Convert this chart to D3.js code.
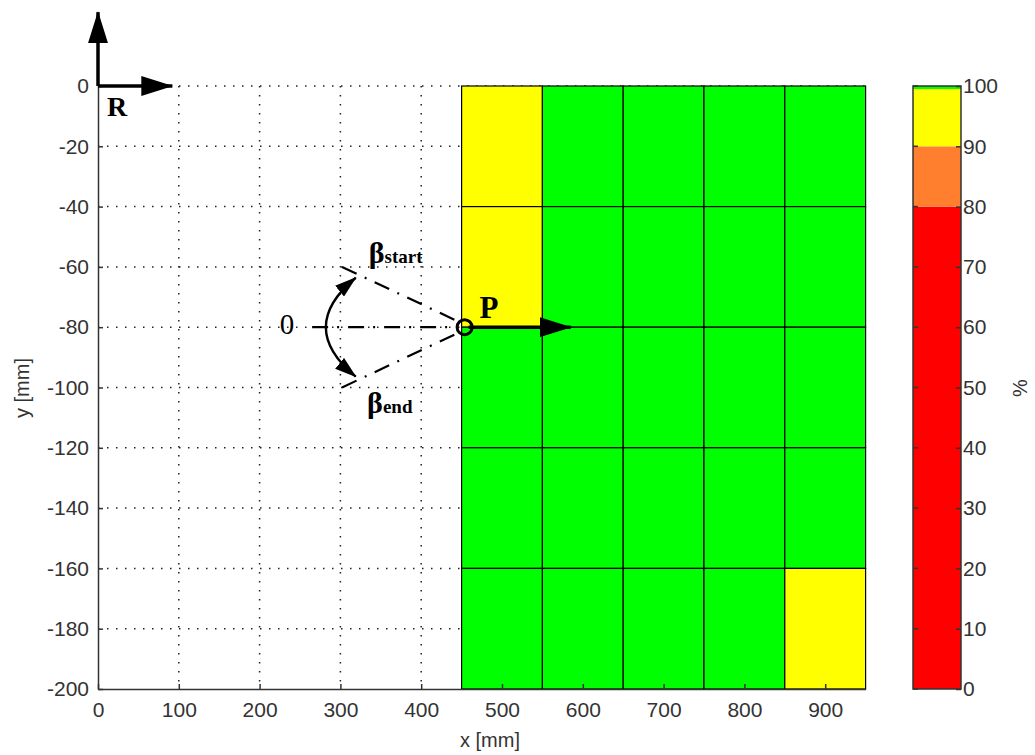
<!DOCTYPE html>
<html>
<head>
<meta charset="utf-8">
<script src="https://cdn.jsdelivr.net/npm/d3@7"></script>
<style>
  body { margin: 0; background: #fff; }
  svg { display: block; }
</style>
</head>
<body>
<svg id="chart" width="1035" height="755"></svg>
<script>
// ---------------- data ----------------
const xTicks = [0, 100, 200, 300, 400, 500, 600, 700, 800, 900];
const yTicks = [0, -20, -40, -60, -80, -100, -120, -140, -160, -180, -200];
const cbTicks = [0, 10, 20, 30, 40, 50, 60, 70, 80, 90, 100];
// cell edges (mm)
const cellXEdges = [450, 550, 650, 750, 850, 950];
const cellYEdges = [0, -40, -80, -120, -160, -200];
// cell values (%), rows top->bottom, columns left->right
const row1 = [95, 100, 100, 100, 100];
const row2 = [95, 100, 100, 100, 100];
const row3 = [100, 100, 100, 100, 100];
const row4 = [100, 100, 100, 100, 100];
const row5 = [100, 100, 100, 100, 95];
const cellValues = [row1, row2, row3, row4, row5];
// colour map bands (%)
const bandLow = [0, 80, 90, 99.5];
const bandHigh = [80, 90, 99.5, 100];
const bandColors = ["#ff0000", "#ff7f2f", "#ffff00", "#00ff00"];

// ---------------- layout ----------------
const svg = d3.select("#chart");
const x = d3.scaleLinear().domain([0, 950]).range([98, 865.6]);
const y = d3.scaleLinear().domain([0, -200]).range([86, 689]);
const cy = d3.scaleLinear().domain([0, 100]).range([689, 86]);
const cbX0 = 913, cbX1 = 961;
const color = d3.scaleThreshold().domain(bandLow.slice(1)).range(bandColors);
const fmt = d => String(d);

const tickFont = "'Liberation Sans', Arial, Helvetica, sans-serif";
const serif = "'Liberation Serif', 'Times New Roman', 'DejaVu Serif', serif";

// markers
const defs = svg.append("defs");
function marker(id, len, wid) {
  defs.append("marker")
    .attr("id", id)
    .attr("markerUnits", "userSpaceOnUse")
    .attr("viewBox", `0 0 ${len} ${wid}`)
    .attr("markerWidth", len).attr("markerHeight", wid)
    .attr("refX", len - 1).attr("refY", wid / 2)
    .attr("orient", "auto-start-reverse")
    .append("path")
    .attr("d", `M0,0 L${len},${wid / 2} L0,${wid} Z`)
    .attr("fill", "#000");
}
marker("bigArrow", 32, 20);
marker("smallArrow", 22, 14);

// ---------------- grid ----------------
const grid = svg.append("g");
grid.selectAll("line.gx").data(xTicks.filter(d => d > 0)).join("line")
  .attr("x1", d => x(d)).attr("x2", d => x(d))
  .attr("y1", y(0)).attr("y2", y(-200))
  .attr("stroke", "#222").attr("stroke-width", 1.5).attr("stroke-dasharray", "1.5,7.5");
grid.selectAll("line.gy").data(yTicks.filter(d => d > -200)).join("line")
  .attr("x1", x(0)).attr("x2", x(950))
  .attr("y1", d => y(d)).attr("y2", d => y(d))
  .attr("stroke", "#222").attr("stroke-width", 1.5).attr("stroke-dasharray", "1.5,7.5");

// ---------------- cells ----------------
const cells = [];
cellValues.forEach((row, r) => row.forEach((v, c) => cells.push({ r, c, v })));
svg.append("g").selectAll("rect").data(cells).join("rect")
  .attr("x", d => x(cellXEdges[d.c]))
  .attr("y", d => y(cellYEdges[d.r]))
  .attr("width", d => x(cellXEdges[d.c + 1]) - x(cellXEdges[d.c]))
  .attr("height", d => y(cellYEdges[d.r + 1]) - y(cellYEdges[d.r]))
  .attr("fill", d => color(d.v))
  .attr("stroke", "#000").attr("stroke-width", 1.2);

// ---------------- axes ----------------
const axL = svg.append("g").attr("transform", `translate(${x(0)},0)`)
  .call(d3.axisLeft(y).tickValues(yTicks).tickFormat(fmt).tickSize(-5).tickSizeOuter(0).tickPadding(9));
const axB = svg.append("g").attr("transform", `translate(0,${y(-200)})`)
  .call(d3.axisBottom(x).tickValues(xTicks).tickFormat(fmt).tickSize(-5).tickSizeOuter(0).tickPadding(13));
[axL, axB].forEach(a => {
  a.selectAll("path.domain").attr("stroke", "#333").attr("stroke-width", 1.5);
  a.selectAll(".tick line").attr("stroke", "#333").attr("stroke-width", 1.5);
  a.selectAll(".tick text").attr("font-family", tickFont).attr("font-size", 21).attr("fill", "#333");
});

svg.append("text").attr("x", 490).attr("y", 747).attr("text-anchor", "middle")
  .attr("font-family", tickFont).attr("font-size", 20).attr("fill", "#333").text("x [mm]");
svg.append("text").attr("transform", "translate(29,388) rotate(-90)").attr("text-anchor", "middle")
  .attr("font-family", tickFont).attr("font-size", 20).attr("fill", "#333").text("y [mm]");

// ---------------- colorbar ----------------
const cb = svg.append("g");
cb.selectAll("rect").data(bandLow.map((d, i) => ({ lo: d, hi: bandHigh[i], c: bandColors[i] }))).join("rect")
  .attr("x", cbX0).attr("width", cbX1 - cbX0)
  .attr("y", d => cy(d.hi)).attr("height", d => cy(d.lo) - cy(d.hi))
  .attr("fill", d => d.c);
cb.append("rect").attr("x", cbX0).attr("y", cy(100)).attr("width", cbX1 - cbX0).attr("height", cy(0) - cy(100))
  .attr("fill", "none").attr("stroke", "#333").attr("stroke-width", 1.5);
const cbAxis = cb.append("g").attr("transform", `translate(${cbX1},0)`)
  .call(d3.axisRight(cy).tickValues(cbTicks).tickFormat(fmt).tickSize(-5).tickSizeOuter(0).tickPadding(2));
cbAxis.select("path.domain").remove();
cbAxis.selectAll(".tick line").attr("stroke", "#333").attr("stroke-width", 1.5);
cbAxis.selectAll(".tick text").attr("font-family", tickFont).attr("font-size", 21).attr("fill", "#333");
cb.selectAll("line.lt").data(cbTicks).join("line")
  .attr("x1", cbX0).attr("x2", cbX0 + 5).attr("y1", d => cy(d)).attr("y2", d => cy(d))
  .attr("stroke", "#333").attr("stroke-width", 1.5);
svg.append("text").attr("transform", "translate(1027,388) rotate(-90)").attr("text-anchor", "middle")
  .attr("font-family", tickFont).attr("font-size", 20).attr("fill", "#333").text("%");

// ---------------- annotations ----------------
const ann = svg.append("g");
// reference frame R
ann.append("line").attr("x1", x(0)).attr("y1", y(0)).attr("x2", x(0)).attr("y2", y(24.5))
  .attr("stroke", "#000").attr("stroke-width", 3.5).attr("marker-end", "url(#bigArrow)");
ann.append("line").attr("x1", x(0)).attr("y1", y(0)).attr("x2", x(92)).attr("y2", y(0))
  .attr("stroke", "#000").attr("stroke-width", 3.5).attr("marker-end", "url(#bigArrow)");
ann.append("text").attr("x", x(11)).attr("y", y(-9.8)).attr("font-family", serif)
  .attr("font-weight", "bold").attr("font-size", 28).text("R");

// dash-dot lines from P
const P = [450, -80];
ann.append("line").attr("x1", x(265)).attr("y1", y(-80)).attr("x2", x(440)).attr("y2", y(-80))
  .attr("stroke", "#000").attr("stroke-width", 2.2).attr("stroke-dasharray", "16,9,2,9");
ann.append("line").attr("x1", x(441)).attr("y1", y(-77.5)).attr("x2", x(299.5)).attr("y2", y(-59.7))
  .attr("stroke", "#000").attr("stroke-width", 2.2).attr("stroke-dasharray", "16,9,2,9");
ann.append("line").attr("x1", x(441)).attr("y1", y(-82.5)).attr("x2", x(299.5)).attr("y2", y(-100.3))
  .attr("stroke", "#000").attr("stroke-width", 2.2).attr("stroke-dasharray", "16,9,2,9");

// curved double arrow
ann.append("path")
  .attr("d", `M${x(319)},${y(-63.6)} Q${x(245)},${y(-80)} ${x(319)},${y(-96.4)}`)
  .attr("fill", "none").attr("stroke", "#000").attr("stroke-width", 2.4)
  .attr("marker-start", "url(#smallArrow)").attr("marker-end", "url(#smallArrow)");

// P arrow and circle
ann.append("line").attr("x1", x(P[0]) + 7).attr("y1", y(P[1])).attr("x2", x(585)).attr("y2", y(P[1]))
  .attr("stroke", "#000").attr("stroke-width", 3.5).attr("marker-end", "url(#bigArrow)");
ann.append("circle").attr("cx", x(P[0]) + 3).attr("cy", y(P[1])).attr("r", 7.5)
  .attr("fill", "none").attr("stroke", "#000").attr("stroke-width", 3);
ann.append("text").attr("x", x(472)).attr("y", y(-77.1)).attr("font-family", serif)
  .attr("font-weight", "bold").attr("font-size", 31).text("P");

// labels
ann.append("text").attr("x", x(234)).attr("y", y(-82.4)).attr("text-anchor", "middle")
  .attr("font-family", serif).attr("font-size", 29).text("0");
const bs = ann.append("text").attr("x", x(335)).attr("y", y(-58.8)).attr("font-family", serif).attr("font-weight", "bold");
bs.append("tspan").attr("font-size", 30).text("β");
bs.append("tspan").attr("font-size", 19).text("start");
const be = ann.append("text").attr("x", x(333)).attr("y", y(-108.6)).attr("font-family", serif).attr("font-weight", "bold");
be.append("tspan").attr("font-size", 30).text("β");
be.append("tspan").attr("font-size", 19).text("end");
</script>
</body>
</html>
